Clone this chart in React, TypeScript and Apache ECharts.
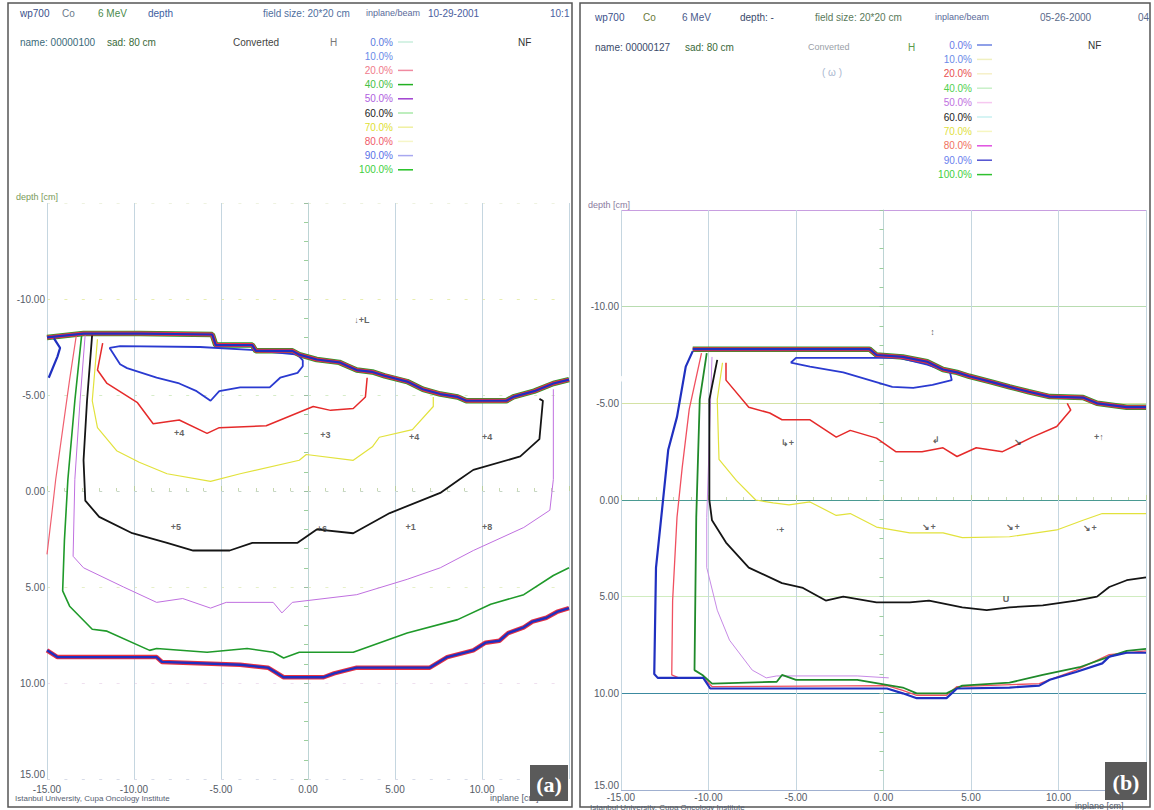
import React, { useEffect, useRef } from "react";
import * as echarts from "echarts";

// ---------- legend / levels ----------
const doseLevels = ["0.0%", "10.0%", "20.0%", "40.0%", "50.0%", "60.0%", "70.0%", "80.0%", "90.0%", "100.0%"];
const legendTextA = ["#5a7ae0", "#6a8ae8", "#f07a8a", "#44c044", "#b060e0", "#222222", "#dede30", "#f05a6a", "#5a70e8", "#40d040"];
const legendLineA = ["#c8eedd", "#ffffff", "#f08aa0", "#22b022", "#a040d0", "#a8e8a8", "#f0f0a0", "#f6f6c8", "#a8a8f0", "#22c022"];
const legendTextB = ["#6a7ae8", "#6a8ae8", "#e85050", "#50d050", "#c070e0", "#222222", "#e0e040", "#f07060", "#6a80ee", "#40d040"];
const legendLineB = ["#6a80e0", "#f0f0c0", "#f6f0c8", "#c8f0c8", "#f6c8f0", "#c8f0f0", "#f6f6c0", "#e050e0", "#5050d0", "#30c030"];

// ---------- axes ----------
const axisMin = -15;
const axisMax = 15;
const axisStep = 5;

// ---------- panel (a) contours: [inplane cm, depth cm] ----------
const surfaceA = [[-15, -8.0], [-12.9, -8.2], [-9.7, -8.2], [-5.5, -8.15], [-5.3, -7.6], [-3.2, -7.6], [-3.0, -7.3], [-0.9, -7.3], [-0.5, -7.1], [0.5, -6.85], [1.8, -6.7], [2.3, -6.5], [2.8, -6.3], [3.7, -6.2], [4.4, -6.0], [5.7, -5.7], [6.6, -5.3], [7.6, -5.05], [8.6, -4.9], [9.1, -4.7], [11.4, -4.7], [11.8, -4.9], [13.0, -5.2], [14.1, -5.6], [15, -5.8]];
const spurA = [[-14.6, -7.95], [-14.25, -7.45], [-14.4, -7.0], [-14.9, -5.9]];
const red20A = [[-13.3, -8.2], [-13.7, -5.8], [-14.1, -3.2], [-14.5, -0.6], [-14.7, 1.0], [-15, 3.3]];
const green40A = [[-13.0, -8.2], [-13.4, -4.7], [-13.8, -0.6], [-14.0, 2.6], [-14.1, 5.2], [-13.7, 6.0], [-12.4, 7.2], [-11.55, 7.3], [-9.1, 8.3], [-8.7, 8.2], [-5.8, 8.4], [-3.5, 8.2], [-2.0, 8.4], [-1.4, 8.7], [-0.5, 8.4], [2.6, 8.4], [5.7, 7.4], [8.6, 6.7], [10.5, 5.9], [12.4, 5.4], [14.1, 4.4], [15, 4.0]];
const purple50A = [[-12.8, -8.2], [-13.1, -4.7], [-13.4, -0.6], [-13.5, 3.4], [-12.9, 4.0], [-10.6, 5.0], [-8.7, 5.8], [-7.2, 5.6], [-5.6, 6.1], [-4.7, 5.8], [-2.0, 5.8], [-1.5, 6.35], [-0.9, 5.8], [2.8, 5.4], [5.7, 4.6], [7.6, 4.0], [9.5, 3.1], [12.4, 1.9], [13.9, 1.0], [14.1, -0.6], [14.1, -5.3]];
const black60A = [[-12.4, -8.2], [-12.7, -4.7], [-12.9, -1.6], [-12.8, 0.5], [-12.0, 1.35], [-10.1, 2.2], [-8.1, 2.7], [-6.6, 3.1], [-4.5, 3.1], [-3.2, 2.7], [-0.6, 2.7], [0.5, 2.0], [2.6, 2.2], [4.7, 1.15], [7.6, 0.1], [8.7, -0.6], [9.5, -1.1], [12.2, -1.8], [13.3, -2.7], [13.5, -4.7], [13.3, -4.8]];
const yellow70A = [[-12.1, -7.9], [-12.4, -4.7], [-12.1, -3.3], [-11.0, -2.1], [-9.7, -1.5], [-8.1, -0.9], [-5.6, -0.5], [-3.9, -0.9], [-0.5, -1.6], [-0.1, -1.9], [2.6, -1.6], [3.7, -2.3], [4.1, -2.8], [6.0, -3.2], [7.2, -4.4], [7.2, -4.9]];
const red80A = [[-11.8, -7.7], [-12.1, -6.3], [-11.55, -5.6], [-9.8, -4.6], [-8.9, -3.5], [-7.4, -3.7], [-5.8, -3.0], [-5.1, -3.3], [-2.4, -3.4], [0.3, -4.4], [1.3, -4.2], [2.6, -4.3], [3.3, -4.9], [3.4, -5.9]];
const blue90A = [[-0.6, -7.1], [-0.3, -6.8], [-0.3, -6.5], [-0.6, -6.15], [-1.6, -5.9], [-2.2, -5.4], [-3.9, -5.4], [-5.1, -5.2], [-5.6, -4.7], [-6.4, -5.2], [-7.4, -5.6], [-8.7, -5.9], [-10.4, -6.4], [-10.8, -6.6], [-11.4, -7.45], [-10.8, -7.55], [-6.2, -7.5], [-3.3, -7.35], [-0.6, -7.1]];
const bottomA = [[-15, 8.3], [-14.4, 8.65], [-8.7, 8.65], [-8.4, 8.9], [-3.9, 9.05], [-2.3, 9.2], [-1.4, 9.7], [0.9, 9.7], [1.5, 9.5], [2.8, 9.2], [7.0, 9.2], [8.0, 8.65], [9.5, 8.3], [10.2, 7.9], [11.0, 7.8], [11.5, 7.4], [12.4, 7.1], [12.9, 6.8], [13.7, 6.6], [14.3, 6.3], [15, 6.1]];
const marksA = [[-7.4, -3.0, "+4"], [1.0, -2.9, "+3"], [6.1, -2.8, "+4"], [10.3, -2.8, "+4"], [-7.6, 1.9, "+5"], [0.8, 2.0, "+6"], [5.9, 1.9, "+1"], [10.3, 1.9, "+8"], [3.1, -8.9, "\u2193+L"]];

// ---------- panel (b) contours ----------
const surfaceB = [[-10.9, -7.8], [-0.8, -7.8], [-0.4, -7.5], [1.1, -7.4], [2.5, -7.15], [3.4, -6.75], [4.2, -6.6], [4.9, -6.4], [6.2, -6.1], [7.2, -5.85], [8.3, -5.6], [9.5, -5.35], [11.4, -5.3], [12.2, -5.0], [13.9, -4.8], [15, -4.8]];
const blue0B = [[-10.9, -7.7], [-11.3, -6.9], [-11.8, -4.3], [-12.3, -2.6], [-12.7, 0.9], [-13.0, 3.5], [-13.1, 9.0], [-12.9, 9.2], [-10.3, 9.2], [-9.9, 9.75], [0.2, 9.75], [1.1, 10.0], [1.9, 10.25], [3.6, 10.25], [4.2, 9.75], [7.2, 9.7], [8.9, 9.6], [9.5, 9.3], [11.0, 8.9], [12.5, 8.45], [12.9, 8.1], [13.9, 7.9], [15, 7.9]];
const red20B = [[-10.4, -7.6], [-11.1, -4.7], [-11.5, -1.7], [-11.8, 0.9], [-12.05, 5.2], [-12.1, 9.05], [-11.7, 9.2], [-10.3, 9.2], [-9.8, 9.65], [0.2, 9.6], [1.1, 9.85], [1.9, 10.1], [3.6, 10.1], [4.2, 9.65], [8.9, 9.5], [11.0, 8.8], [12.9, 8.0], [15, 7.8]];
const green40B = [[-10.1, -7.6], [-10.5, -5.2], [-10.7, 0.9], [-10.8, 8.8], [-10.35, 9.05], [-9.8, 9.5], [-6.1, 9.4], [-5.8, 9.05], [-5.0, 9.3], [-1.5, 9.3], [1.1, 9.7], [1.9, 10.0], [3.6, 10.0], [4.5, 9.6], [7.2, 9.45], [9.1, 9.05], [11.2, 8.65], [12.9, 8.1], [13.9, 7.8], [15, 7.7]];
const purple50B = [[-9.8, -7.4], [-10.1, 0.9], [-10.1, 3.5], [-9.5, 5.7], [-8.8, 7.25], [-7.5, 8.8], [-6.7, 9.2], [-6.1, 9.1], [-1.5, 9.1], [0.3, 9.2]];
const black60B = [[-9.5, -7.25], [-9.95, -5.2], [-9.95, 0], [-9.8, 1.05], [-9.0, 2.2], [-7.7, 3.5], [-5.8, 4.3], [-4.6, 4.55], [-3.3, 5.2], [-2.3, 5.0], [-0.4, 5.3], [1.5, 5.3], [2.6, 5.2], [4.5, 5.55], [5.9, 5.7], [7.2, 5.55], [9.1, 5.45], [11.0, 5.2], [12.2, 5.0], [12.9, 4.5], [13.9, 4.15], [15, 4.0]];
const yellow70B = [[-9.2, -7.1], [-9.5, -5.2], [-9.4, -2.1], [-8.4, -1.0], [-7.3, 0], [-6.3, 0.15], [-5.4, 0.25], [-4.2, 0.1], [-2.7, 0.8], [-1.9, 0.7], [-0.4, 1.4], [1.5, 1.7], [3.4, 1.7], [4.5, 1.95], [7.2, 1.9], [9.9, 1.55], [11.4, 1.05], [12.5, 0.7], [15, 0.7]];
const red80B = [[-9.0, -7.1], [-9.0, -6.2], [-7.7, -4.8], [-6.5, -4.5], [-5.8, -4.15], [-4.2, -4.15], [-2.7, -3.25], [-1.9, -3.6], [-0.4, -3.2], [0.7, -2.5], [2.2, -2.5], [3.4, -2.7], [4.2, -2.25], [5.3, -2.7], [6.8, -2.5], [8.5, -3.25], [9.9, -3.8], [10.7, -4.65], [10.5, -5.0]];
const blue90B = [[-5.3, -7.1], [-4.2, -6.9], [-2.3, -6.6], [-0.8, -6.2], [0.5, -5.85], [1.7, -5.8], [2.8, -5.95], [3.9, -6.2], [3.8, -6.6], [2.5, -7.0], [0.9, -7.35], [-5.0, -7.35], [-5.3, -7.1]];
const hotspotsB = [[-13.5, -6.85], [-14.6, -6.3]];
const marksB = [[-5.5, -2.95, "\u21b3+"], [3.0, -3.1, "\u21b2"], [7.7, -3.0, "\u2198"], [12.3, -3.25, "+\u2191"], [-5.9, 1.55, "\u00b7+"], [2.6, 1.4, "\u2198+"], [7.4, 1.4, "\u2198+"], [11.8, 1.45, "\u2198+"], [7.0, 5.1, "U"], [2.8, -8.7, "\u2195"]];

// ---------- helpers ----------
const FONT = '"Liberation Sans", Arial, sans-serif';
const fmt = (v: number) => v.toFixed(2);

function txt(text: string, x: number, y: number, fill: string, size = 10, align = "left", extra: any = {}) {
  return {
    type: "text",
    x,
    y,
    silent: true,
    z: extra.z || 100,
    style: {
      text,
      fill,
      font: `${extra.weight || "normal"} ${size}px ${extra.family || FONT}`,
      align,
      verticalAlign: "middle",
      textAlign: align,
      textVerticalAlign: "middle",
    },
  };
}

function line(name: string, data: any[], color: string, width: number, gi: number, z = 3) {
  return {
    type: "line",
    name,
    data,
    xAxisIndex: gi,
    yAxisIndex: gi,
    showSymbol: false,
    symbol: "none",
    silent: true,
    animation: false,
    z,
    lineStyle: { color, width },
  };
}

function xAxis(gi: number, splitColor: string, margin: number) {
  return {
    type: "value",
    gridIndex: gi,
    min: axisMin,
    max: axisMax,
    interval: axisStep,
    axisLine: { show: false },
    axisTick: { show: true, inside: true, length: 5, lineStyle: { color: "#b8cfa0" } },
    minorTick: { show: true, splitNumber: 5, length: 3, lineStyle: { color: "#c8d8b0" } },
    axisLabel: {
      margin,
      fontSize: 10,
      fontFamily: FONT,
      color: "#555b66",
      formatter: (v: number) => (v === axisMax ? "" : fmt(v)),
    },
    splitLine: { show: true, lineStyle: { color: splitColor, width: 1 } },
  };
}

function yAxis(gi: number, splitStyle: any) {
  return {
    type: "value",
    gridIndex: gi,
    inverse: true,
    min: axisMin,
    max: axisMax,
    interval: axisStep,
    axisLine: { show: true, lineStyle: { color: "#bcd4d4", width: 1 } },
    axisTick: { show: true, length: 4, lineStyle: { color: "#9cc0a0" } },
    minorTick: { show: true, splitNumber: 5, length: 4, lineStyle: { color: "#9ccf9c" } },
    axisLabel: {
      margin: 2,
      fontSize: 10,
      fontFamily: FONT,
      color: "#555b66",
      verticalAlignMaxLabel: "bottom",
      formatter: (v: number) => (v === axisMin ? "" : fmt(v)),
    },
    splitLine: { show: true, lineStyle: splitStyle },
  };
}

function legend(xRight: number, y0: number, dy: number, textColors: string[], lineColors: string[]) {
  const out: any[] = [];
  doseLevels.forEach((lab, i) => {
    const y = y0 + i * dy;
    out.push(txt(lab, xRight, y, textColors[i], 10, "right"));
    out.push({
      type: "line",
      silent: true,
      z: 100,
      shape: { x1: xRight + 5, y1: y, x2: xRight + 20, y2: y },
      style: { stroke: lineColors[i], lineWidth: 1.5 },
    });
  });
  return out;
}

function markSeries(data: any[], gi: number) {
  return {
    type: "scatter",
    xAxisIndex: gi,
    yAxisIndex: gi,
    data: data.map((d) => ({ value: [d[0], d[1]], name: d[2] })),
    symbolSize: 0,
    silent: true,
    z: 6,
    label: {
      show: true,
      position: "inside",
      formatter: (p: any) => p.name,
      fontSize: 9,
      fontFamily: FONT,
      color: "#3a3a3a",
      fontWeight: "bold",
    },
  };
}

export default function App() {
  const ref = useRef<HTMLDivElement>(null);

  useEffect(() => {
    if (!ref.current) return;
    const chart = echarts.init(ref.current, null, { renderer: "svg" });

    const graphics: any[] = [
      // panel frames
      { type: "rect", silent: true, z: 0, shape: { x: 8, y: 3, width: 564, height: 804 }, style: { fill: "none", stroke: "#555", lineWidth: 1.5 } },
      { type: "rect", silent: true, z: 0, shape: { x: 580, y: 3, width: 570, height: 804 }, style: { fill: "none", stroke: "#555", lineWidth: 1.5 } },
      // header (a)
      txt("wp700", 20, 13, "#3a4f8a"),
      txt("Co", 62, 13, "#6a7a8a"),
      txt("6 MeV", 98, 13, "#4a8a4a"),
      txt("depth", 148, 13, "#4060a0"),
      txt("field size: 20*20 cm", 263, 13, "#5070a0"),
      txt("inplane/beam", 366, 13, "#5a6a9a", 9),
      txt("10-29-2001", 428, 13, "#4a60a0"),
      txt("10:1", 550, 13, "#4a60a0"),
      txt("name: 00000100", 20, 42, "#3a6a7a"),
      txt("sad: 80 cm", 107, 42, "#3a6a3a"),
      txt("Converted", 233, 42, "#444"),
      txt("H", 330, 42, "#777"),
      txt("NF", 518, 42, "#333"),
      ...legend(393, 42, 14.2, legendTextA, legendLineA),
      txt("depth [cm]", 16, 197, "#7a9a5a", 9),
      txt("Istanbul University, Cupa Oncology Institute", 15, 798, "#556070", 8),
      txt("inplane [cm]", 490, 798, "#556070", 9),
      // header (b)
      txt("wp700", 595, 17, "#3a4f8a"),
      txt("Co", 643, 17, "#6a7a3a"),
      txt("6 MeV", 682, 17, "#4a5a8a"),
      txt("depth: -", 740, 17, "#3a4a6a"),
      txt("field size: 20*20 cm", 815, 17, "#5a7a5a"),
      txt("inplane/beam", 935, 17, "#5a6a9a", 9),
      txt("05-26-2000", 1040, 17, "#5a6a8a"),
      txt("04", 1138, 17, "#5a6a8a"),
      txt("name: 00000127", 595, 47, "#3a4a6a"),
      txt("sad: 80 cm", 685, 47, "#3a6a3a"),
      txt("Converted", 808, 47, "#9aa0a8", 9),
      txt("H", 908, 47, "#5a9a4a"),
      txt("NF", 1088, 45, "#333"),
      txt("( \u03c9 )", 822, 72, "#aab8d0", 10),
      ...legend(972, 45, 14.4, legendTextB, legendLineB),
      txt("depth [cm]", 588, 205, "#8a7aa0", 9),
      txt("Istanbul University, Cupa Oncology Institute", 590, 807, "#556070", 8),
      txt("inplane [cm]", 1075, 806, "#556070", 9),
      // panel tags
      { type: "rect", silent: true, z: 110, shape: { x: 530, y: 765, width: 38, height: 36 }, style: { fill: "#5a5a5a" } },
      txt("(a)", 549, 784, "#ffffff", 22, "center", { weight: "bold", family: '"Liberation Serif", serif', z: 120 }),
      { type: "rect", silent: true, z: 110, shape: { x: 1105, y: 762, width: 42, height: 38 }, style: { fill: "#5a5a5a" } },
      txt("(b)", 1126, 782, "#ffffff", 22, "center", { weight: "bold", family: '"Liberation Serif", serif', z: 120 }),
    ];

    const option: any = {
      animation: false,
      backgroundColor: "#ffffff",
      grid: [
        { left: 47, top: 203, width: 522, height: 576, containLabel: false },
        { left: 621, top: 210, width: 525, height: 580, containLabel: false },
      ],
      xAxis: [xAxis(0, "#c5d6e0", 5), xAxis(1, "#c5d6e0", 2)],
      yAxis: [
        yAxis(0, { color: ["#eef2e0", "#e8eeb0", "#d6ecc8", "#c6d6c6", "#e6efc8", "#efe0ef", "#d8dce8"], width: 1.2, type: [3, 14.4] }),
        yAxis(1, { color: ["#c89ee0", "#b8dcb0", "#d4e2a4", "#4a9a92", "#d0ecc0", "#3c8aa0", "#a0b0d0"], width: 1.2 }),
      ],
      graphic: { elements: graphics },
      series: [
        // panel (a)
        line("surfA-g", surfaceA, "#2a9a2a", 5.5, 0, 3),
        line("surfA-r", surfaceA, "#e83040", 4, 0, 4),
        line("surfA-b", surfaceA, "#2030c0", 2.2, 0, 5),
        line("spurA", spurA, "#2030c0", 2.2, 0, 5),
        line("20%A", red20A, "#f06070", 1.2, 0),
        line("40%A", green40A, "#1f9a2a", 1.6, 0),
        line("50%A", purple50A, "#c070e0", 1, 0),
        line("60%A", black60A, "#151515", 1.8, 0),
        line("70%A", yellow70A, "#e2e23c", 1.2, 0),
        line("80%A", red80A, "#e52a2a", 1.5, 0),
        line("90%A", blue90A, "#2a3ad0", 1.8, 0),
        line("botA-r", bottomA, "#e83040", 4.5, 0, 3),
        line("botA-b", bottomA, "#2030c0", 2.4, 0, 4),
        markSeries(marksA, 0),
        // panel (b)
        line("surfB-g", surfaceB, "#2a9a2a", 5.5, 1, 3),
        line("surfB-r", surfaceB, "#e83040", 4, 1, 4),
        line("surfB-b", surfaceB, "#2030c0", 2.2, 1, 5),
        line("0%B", blue0B, "#2030c0", 2.2, 1, 5),
        line("20%B", red20B, "#f05060", 1.3, 1, 4),
        line("40%B", green40B, "#1f8a2a", 1.8, 1, 4),
        line("50%B", purple50B, "#c78ae6", 1, 1),
        line("60%B", black60B, "#151515", 1.8, 1),
        line("70%B", yellow70B, "#e2e23c", 1.2, 1),
        line("80%B", red80B, "#e52a2a", 1.5, 1),
        line("90%B", blue90B, "#2a3ad0", 1.8, 1),
        {
          type: "scatter",
          xAxisIndex: 1,
          yAxisIndex: 1,
          data: hotspotsB,
          symbol: "emptyCircle",
          symbolSize: [16, 8],
          silent: true,
          itemStyle: { color: "#ffffff", borderColor: "#6a8ae0", borderWidth: 1, borderType: "dashed" },
          z: 6,
        },
        markSeries(marksB, 1),
      ],
    };

    chart.setOption(option);
    return () => chart.dispose();
  }, []);

  return (
    <div
      ref={ref}
      style={{ position: "absolute", left: 0, top: 0, width: 1154, height: 810, background: "#fff" }}
    />
  );
}
